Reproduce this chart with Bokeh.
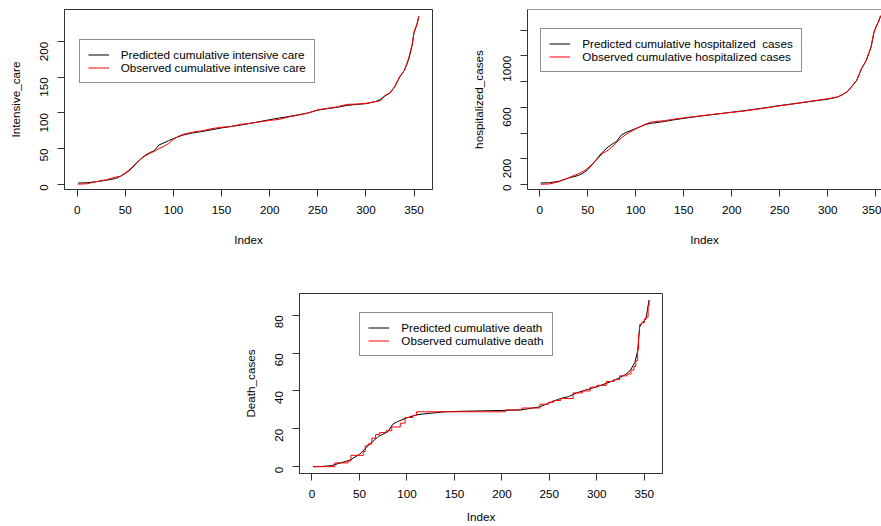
import math
from bokeh.plotting import figure
from bokeh.models import (FixedTicker, Legend, LegendItem, Span, Spacer, Range1d)
from bokeh.layouts import column, row
from bokeh.embed import file_html
from bokeh.resources import INLINE

# ---------------- data ----------------
x_ticks = [0, 50, 100, 150, 200, 250, 300, 350]

# Intensive care
x_ic = [1, 10, 20, 30, 40, 45, 50, 55, 60, 65, 70, 75, 80, 85, 90, 95, 100, 105, 110,
        120, 130, 140, 150, 160, 170, 180, 190, 200, 210, 220, 230, 240, 250, 260, 270,
        280, 290, 300, 310, 315, 320, 325, 330, 335, 340, 343, 345, 348, 350, 353, 355]
pred_ic = [1.5, 2, 3.5, 5.5, 8, 11, 15, 20, 27, 34, 40, 44, 47, 55, 58, 61, 64, 66.5, 69,
           72, 74, 76.5, 79, 81, 83, 85.5, 88, 90.5, 93, 95, 97.5, 100, 104, 106, 108,
           110.5, 112, 113, 116, 119, 124, 128, 137, 150, 160, 170, 178, 195, 213, 224, 235]
obs_ic = [0, 0.5, 3.5, 6, 10, 11, 16, 21, 28, 34, 39, 43, 46, 50, 53, 57, 63, 67, 70,
          73, 75, 78, 80, 81, 84, 85.5, 87.5, 89.5, 91, 94.5, 97, 100, 104.5, 106.5, 108.5,
          112, 112.5, 113.5, 116, 117, 125, 128, 137, 151, 160, 171, 180, 196, 214, 225, 236]
y_ticks_ic = [0, 50, 100, 150, 200]

# Hospitalized
x_h = [1, 10, 20, 30, 40, 45, 50, 55, 60, 65, 70, 75, 80, 85, 90, 100, 110, 115, 120,
       130, 140, 150, 160, 170, 180, 190, 200, 210, 220, 230, 240, 250, 260, 270, 280,
       290, 300, 310, 315, 320, 325, 330, 335, 340, 345, 348, 350, 353, 355]
pred_h = [12, 13, 25, 50, 70, 88, 115, 158, 205, 248, 285, 312, 335, 385, 405, 435, 465, 475, 479,
          490, 503, 514, 524, 534, 543, 552, 562, 571, 581, 591, 602, 614, 623, 633, 643,
          653, 663, 679, 697, 720, 762, 808, 899, 964, 1067, 1180, 1222, 1268, 1310]
obs_h = [2, 4, 22, 52, 83, 101, 127, 160, 198, 240, 260, 290, 328, 362, 390, 432, 468, 484, 489,
         496, 508, 518, 527, 536, 545, 553, 561, 568, 578, 589, 600, 612, 622, 633, 645,
         656, 667, 680, 697, 720, 762, 808, 899, 964, 1067, 1184, 1224, 1270, 1313]
y_ticks_h = [0, 200, 400, 600, 800, 1000, 1200]

# Death
x_d = [1, 10, 20, 30, 40, 50, 60, 70, 80, 85, 90, 100, 110, 120, 140, 160, 200, 220, 240,
       250, 260, 270, 280, 290, 300, 310, 320, 330, 335, 340, 343, 345, 347, 350, 352, 355]
pred_d = [0, 0.1, 0.5, 2, 3.5, 6.5, 11.5, 16, 18.5, 22.4, 23.8, 25.8, 27.4, 28, 29, 29.3, 29.7, 30, 31.6,
          33.7, 35.7, 37, 39.2, 40.8, 42.2, 44, 46, 48.6, 50.7, 55, 61, 73.6, 75.8, 77, 79, 88]
x_obs_d = [1, 24, 38, 41, 54, 56, 59, 63, 67, 71, 78, 84, 93, 98, 106, 110, 204, 221, 240, 249,
           254, 262, 275, 285, 293, 300, 310, 318, 324, 332, 336, 339, 341, 343, 344, 345, 347,
           350, 352, 354, 355]
obs_d = [0, 2, 3, 6, 8, 11, 12, 15, 17, 18, 19, 21, 23, 26, 27, 29, 30, 31, 33, 34,
         35, 36, 39, 40, 42, 43, 45, 46, 48, 49, 51, 53, 56, 62, 70, 75, 76,
         78, 79, 85, 88]
y_ticks_d = [0, 20, 40, 60, 80]

# ---------------- styling helpers ----------------
FONT = "Liberation Sans"
FS = "11.7px"
AXC = "#333333"
TXT = "#000000"


def make_fig(w, h, xr, yr, ml, mr, mt, mb, xlab, ylab, x_title_standoff=16, outline=True):
    p = figure(width=w, height=h, x_range=Range1d(*xr), y_range=Range1d(*yr),
               output_backend="svg", toolbar_location=None, title=None,
               min_border_left=ml, min_border_right=mr, min_border_top=mt, min_border_bottom=mb,
               x_axis_label=xlab, y_axis_label=ylab)
    p.grid.visible = False
    p.background_fill_color = "white"
    p.border_fill_color = "white"
    p.outline_line_color = AXC if outline else None
    p.outline_line_width = 1
    for ax in (p.xaxis[0], p.yaxis[0]):
        ax.axis_line_color = AXC
        ax.axis_line_width = 1
        ax.major_tick_line_color = AXC
        ax.major_tick_out = 7
        ax.major_tick_in = 0
        ax.minor_tick_line_color = None
        ax.major_label_text_font = FONT
        ax.major_label_text_font_size = FS
        ax.major_label_text_color = TXT
        ax.axis_label_text_font = FONT
        ax.axis_label_text_font_size = FS
        ax.axis_label_text_font_style = "normal"
        ax.axis_label_text_color = TXT
    p.xaxis.major_label_standoff = 9
    p.yaxis.major_label_standoff = 13
    p.yaxis.major_label_orientation = math.pi / 2
    p.yaxis.axis_label_standoff = 12
    p.xaxis.axis_label_standoff = x_title_standoff
    p.xaxis.ticker = FixedTicker(ticks=x_ticks)
    return p


def add_legend(p, items, loc):
    lg = Legend(items=items, location=loc, border_line_color="#222222", border_line_width=1,
                padding=8, spacing=0, margin=0, label_text_font=FONT, label_text_font_size=FS,
                label_text_color=TXT, glyph_width=21, glyph_height=13, label_height=13,
                label_standoff=12, background_fill_color="white", background_fill_alpha=1)
    p.add_layout(lg)


# ---------------- panel 1 ----------------
p1 = make_fig(462, 288, (-13.16, 369.16), (-7.5, 245.3), 64, 30, 9, 99, "Index", "Intensive_care")
p1.yaxis.ticker = FixedTicker(ticks=y_ticks_ic)
r1a = p1.line(x_ic, pred_ic, line_color="black", line_width=1)
r1b = p1.line(x_ic, obs_ic, line_color="red", line_width=1)
add_legend(p1, [LegendItem(label="Predicted cumulative intensive care", renderers=[r1a]),
                LegendItem(label="Observed cumulative intensive care", renderers=[r1b])],
           (14.7, 106))

# ---------------- panel 2 ----------------
p2 = make_fig(419, 288, (-12.8, 355.9), (-39, 1360), 65, 0, 9, 99, "Index", "hospitalized_cases",
              outline=False)
p2.yaxis.ticker = FixedTicker(ticks=y_ticks_h)
p2.yaxis.major_label_overrides = {400: "", 800: "", 1200: ""}
p2.add_layout(Span(location=1360, dimension="width", line_color=AXC, line_width=1))
r2a = p2.line(x_h, pred_h, line_color="black", line_width=1)
r2b = p2.line(x_h, obs_h, line_color="red", line_width=1)
add_legend(p2, [LegendItem(label="Predicted cumulative hospitalized  cases", renderers=[r2a]),
                LegendItem(label="Observed cumulative hospitalized cases", renderers=[r2b])],
           (13.3, 117))

# ---------------- panel 3 ----------------
p3 = make_fig(432, 238, (-13.16, 369.16), (-3.6, 91.5), 56, 10, 5, 53, "Index", "Death_cases",
              x_title_standoff=9)
p3.yaxis.ticker = FixedTicker(ticks=y_ticks_d)
r3a = p3.line(x_d, pred_d, line_color="black", line_width=1)
r3b = p3.step(x_obs_d, obs_d, mode="after", line_color="red", line_width=1)
add_legend(p3, [LegendItem(label="Predicted cumulative death", renderers=[r3a]),
                LegendItem(label="Observed cumulative death", renderers=[r3b])],
           (60.3, 116.7))

layout = column(row(p1, p2), row(Spacer(width=240, height=238), p3))

open("out.html", "w").write(file_html(layout, INLINE))
